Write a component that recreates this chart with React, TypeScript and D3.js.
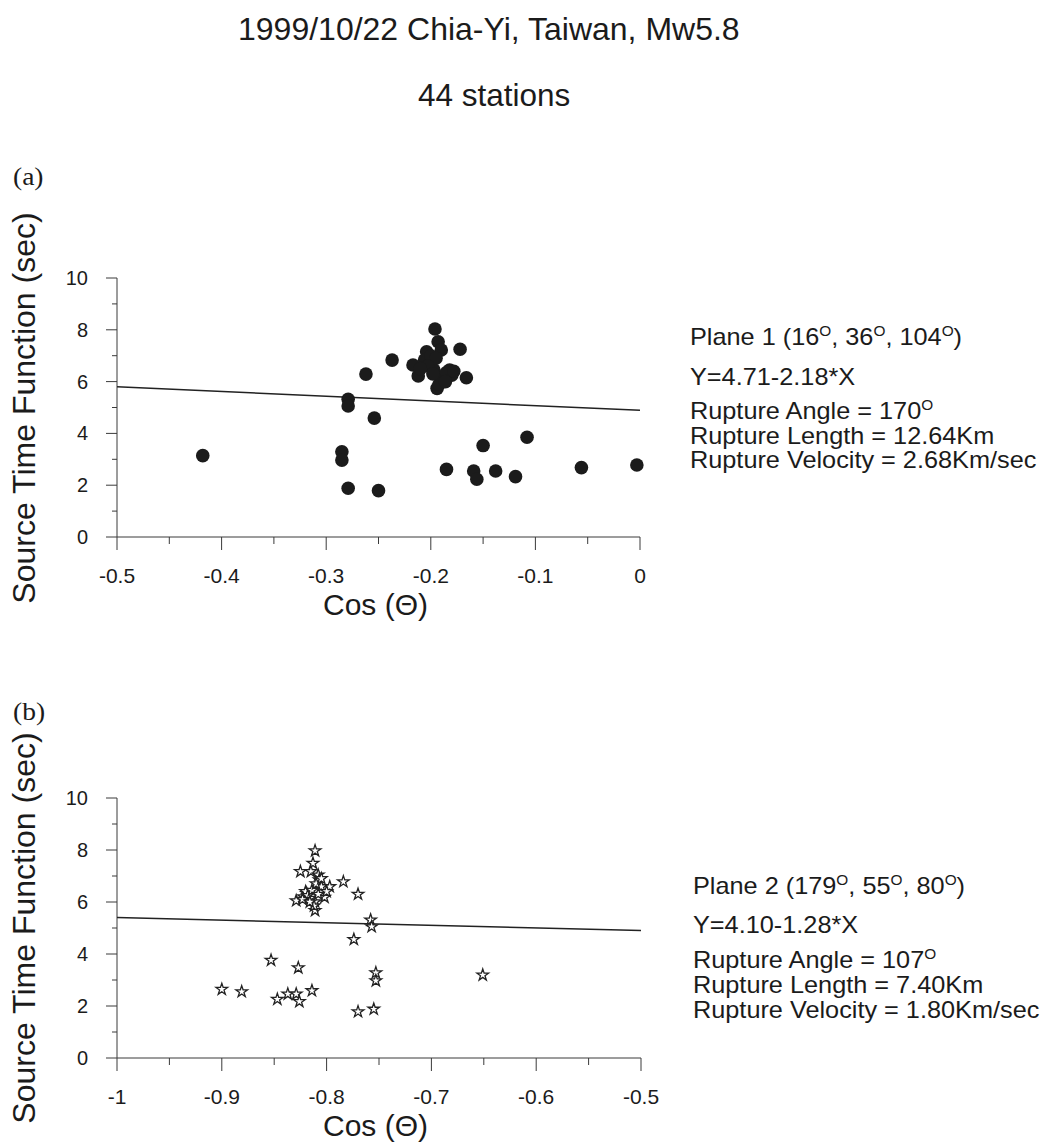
import React from "react";
import * as d3 from "d3";

// ---------- data ----------
const titleLine1 = "1999/10/22 Chia-Yi, Taiwan, Mw5.8";
const titleLine2 = "44 stations";

const yTicks = [0, 1, 2, 3, 4, 5, 6, 7, 8, 9, 10];
const yTickLabels = ["0", "", "2", "", "4", "", "6", "", "8", "", "10"];

const xTicksA = [-0.5, -0.45, -0.4, -0.35, -0.3, -0.25, -0.2, -0.15, -0.1, -0.05, 0];
const xTickLabelsA = ["-0.5", "", "-0.4", "", "-0.3", "", "-0.2", "", "-0.1", "", "0"];
const xTicksB = [-1, -0.95, -0.9, -0.85, -0.8, -0.75, -0.7, -0.65, -0.6, -0.55, -0.5];
const xTickLabelsB = ["-1", "", "-0.9", "", "-0.8", "", "-0.7", "", "-0.6", "", "-0.5"];

// Plane 1 (a): cos(theta) and source time function (sec)
const cosA = [
  -0.418, -0.279, -0.279, -0.262, -0.237, -0.254, -0.285, -0.285, -0.279, -0.25,
  -0.196, -0.193, -0.19, -0.172, -0.204, -0.217, -0.212, -0.206, -0.2, -0.197,
  -0.182, -0.187, -0.19, -0.194, -0.18, -0.166,
  -0.15, -0.108, -0.185, -0.159, -0.156, -0.138, -0.119, -0.056, -0.003,
  -0.2, -0.195, -0.185, -0.178, -0.192, -0.203, -0.198, -0.186, -0.21,
];
const stfA = [
  3.14, 5.32, 5.06, 6.29, 6.83, 4.59, 3.29, 2.97, 1.88, 1.79,
  8.03, 7.54, 7.22, 7.25, 7.15, 6.64, 6.22, 6.83, 6.7, 6.45,
  6.45, 6.19, 6.06, 5.74, 6.25, 6.15,
  3.53, 3.85, 2.61, 2.55, 2.23, 2.55, 2.33, 2.68, 2.78,
  7.0, 6.9, 6.35, 6.4, 5.9, 6.6, 6.3, 6.0, 6.5,
];
const fitA_x = [-0.5, 0];
const fitA_y = [5.8, 4.89];

// Plane 2 (b)
const cosB = [
  -0.811, -0.813, -0.825, -0.815, -0.808, -0.807, -0.784, -0.797, -0.805, -0.77,
  -0.819, -0.822, -0.816, -0.802, -0.829, -0.811, -0.811, -0.758, -0.757, -0.774,
  -0.853, -0.827, -0.753, -0.753, -0.9, -0.881, -0.847, -0.837, -0.829, -0.826,
  -0.814, -0.77, -0.755, -0.651,
  -0.82, -0.818, -0.814, -0.81, -0.805, -0.812, -0.823, -0.8, -0.816, -0.808,
];
const stfB = [
  7.97, 7.49, 7.17, 7.17, 7.04, 6.85, 6.78, 6.59, 6.59, 6.3,
  6.33, 6.2, 6.14, 6.18, 6.05, 6.01, 5.67, 5.31, 5.05, 4.56,
  3.76, 3.47, 3.28, 2.97, 2.64, 2.55, 2.26, 2.46, 2.46, 2.17,
  2.59, 1.78, 1.88, 3.19,
  6.4, 6.25, 6.45, 6.7, 6.9, 5.85, 6.1, 6.4, 6.0, 6.3,
];
const fitB_x = [-1, -0.5];
const fitB_y = [5.4, 4.9];

const infoA = {
  plane: "Plane 1",
  angles: ["16", "36", "104"],
  eq: "Y=4.71-2.18*X",
  angle: "170",
  length: "12.64Km",
  velocity: "2.68Km/sec",
};
const infoB = {
  plane: "Plane 2",
  angles: ["179", "55", "80"],
  eq: "Y=4.10-1.28*X",
  angle: "107",
  length: "7.40Km",
  velocity: "1.80Km/sec",
};

const SANS = "'Liberation Sans', Arial, Helvetica, sans-serif";
const SERIF = "'Liberation Serif', 'Times New Roman', serif";
const INK = "#1b1b1b";

function Txt(props: any) {
  const { x, y, size, sx = 1, rot = 0, anchor = "start", family = SANS, children, fill = INK } = props;
  return (
    <text
      transform={`translate(${x},${y}) rotate(${rot}) scale(${sx},1)`}
      fontSize={size}
      fontFamily={family}
      textAnchor={anchor}
      fill={fill}
    >
      {children}
    </text>
  );
}

function Sup({ v }: { v: string }) {
  return (
    <>
      <tspan dy={-9} fontSize={14}>O</tspan>
      <tspan dy={9}>{v}</tspan>
    </>
  );
}

function Info({ x, ys, info }: any) {
  const fs = 23;
  const sx = 1.1;
  return (
    <g>
      <Txt x={x} y={ys[0]} size={fs} sx={sx}>
        {`${info.plane} (${info.angles[0]}`}
        <Sup v={`, ${info.angles[1]}`} />
        <Sup v={`, ${info.angles[2]}`} />
        <Sup v={")"} />
      </Txt>
      <Txt x={x} y={ys[1]} size={fs} sx={sx}>{info.eq}</Txt>
      <Txt x={x} y={ys[2]} size={fs} sx={sx}>
        {`Rupture Angle = ${info.angle}`}
        <tspan dy={-9} fontSize={14}>O</tspan>
      </Txt>
      <Txt x={x} y={ys[3]} size={fs} sx={sx}>{`Rupture Length = ${info.length}`}</Txt>
      <Txt x={x} y={ys[4]} size={fs} sx={sx}>{`Rupture Velocity = ${info.velocity}`}</Txt>
    </g>
  );
}

function Panel(props: any) {
  const { x0, x1, yTop, yBot, xDomain, xTicks, xTickLabels, cos, stf, fitX, fitY, marker, labelCenter } = props;
  const xs = d3.scaleLinear().domain(xDomain).range([x0, x1]);
  const ys = d3.scaleLinear().domain([0, 10]).range([yBot, yTop]);
  const line = d3
    .line<number>()
    .x((d) => xs(d))
    .y((_, i) => ys(fitY[i]));
  const star = d3.symbol().type(d3.symbolStar).size(42)();
  const axisColor = "#3a3a3a";
  return (
    <g>
      {/* y axis */}
      <line x1={x0} x2={x0} y1={ys(10)} y2={ys(0)} stroke={axisColor} strokeWidth={1} />
      {yTicks.map((t, i) => (
        <line
          key={"yt" + i}
          x1={x0 - (t % 2 === 0 ? 11 : 5)}
          x2={x0}
          y1={ys(t)}
          y2={ys(t)}
          stroke={axisColor}
          strokeWidth={1}
        />
      ))}
      {yTicks.map((t, i) =>
        yTickLabels[i] ? (
          <Txt key={"yl" + i} x={88} y={ys(t) + 7} size={20} anchor="end">
            {yTickLabels[i]}
          </Txt>
        ) : null
      )}
      {/* x axis */}
      <line x1={x0} x2={x1} y1={yBot} y2={yBot} stroke={axisColor} strokeWidth={1} />
      {xTicks.map((t: number, i: number) => (
        <line
          key={"xt" + i}
          x1={xs(t)}
          x2={xs(t)}
          y1={yBot}
          y2={yBot + (i % 2 === 0 ? 13 : 7)}
          stroke={axisColor}
          strokeWidth={1}
        />
      ))}
      {xTicks.map((t: number, i: number) =>
        xTickLabels[i] ? (
          <Txt key={"xl" + i} x={xs(t)} y={yBot + 46} size={21} anchor="middle">
            {xTickLabels[i]}
          </Txt>
        ) : null
      )}
      {/* axis titles */}
      <Txt x={323} y={yBot + 78} size={30}>
        Cos (Θ)
      </Txt>
      <Txt x={35} y={labelCenter} size={32} rot={-90} anchor="middle">
        Source Time Function (sec)
      </Txt>
      {/* fit line */}
      <path d={line(fitX) || ""} fill="none" stroke="#222" strokeWidth={1.5} />
      {/* points */}
      {cos.map((c: number, i: number) =>
        marker === "dot" ? (
          <circle key={"p" + i} cx={xs(c)} cy={ys(stf[i])} r={6.8} fill={INK} />
        ) : (
          <path
            key={"p" + i}
            d={star || ""}
            transform={`translate(${xs(c)},${ys(stf[i])})`}
            fill="#fff"
            stroke="#222"
            strokeWidth={1.3}
          />
        )
      )}
    </g>
  );
}

export default function App() {
  return (
    <svg
      width={1049}
      height={1145}
      viewBox="0 0 1049 1145"
      style={{ position: "absolute", left: 0, top: 0, display: "block", background: "#fff" }}
    >
      <rect x={0} y={0} width={1049} height={1145} fill="#fff" />
      <Txt x={238} y={40} size={32}>{titleLine1}</Txt>
      <Txt x={418} y={106} size={31.5}>{titleLine2}</Txt>

      <Txt x={13} y={185} size={25} sx={1.1} family={SERIF}>(a)</Txt>
      <Txt x={13} y={720} size={25} sx={1.1} family={SERIF}>(b)</Txt>

      <Panel
        x0={117}
        x1={640}
        yTop={278}
        yBot={537}
        xDomain={[-0.5, 0]}
        xTicks={xTicksA}
        xTickLabels={xTickLabelsA}
        cos={cosA}
        stf={stfA}
        fitX={fitA_x}
        fitY={fitA_y}
        marker="dot"
        labelCenter={408}
      />
      <Panel
        x0={117}
        x1={641}
        yTop={798}
        yBot={1058}
        xDomain={[-1, -0.5]}
        xTicks={xTicksB}
        xTickLabels={xTickLabelsB}
        cos={cosB}
        stf={stfB}
        fitX={fitB_x}
        fitY={fitB_y}
        marker="star"
        labelCenter={928}
      />

      <Info x={690} ys={[345, 385, 419, 444, 468]} info={infoA} />
      <Info x={693} ys={[894, 933, 968, 993, 1018]} info={infoB} />
    </svg>
  );
}
